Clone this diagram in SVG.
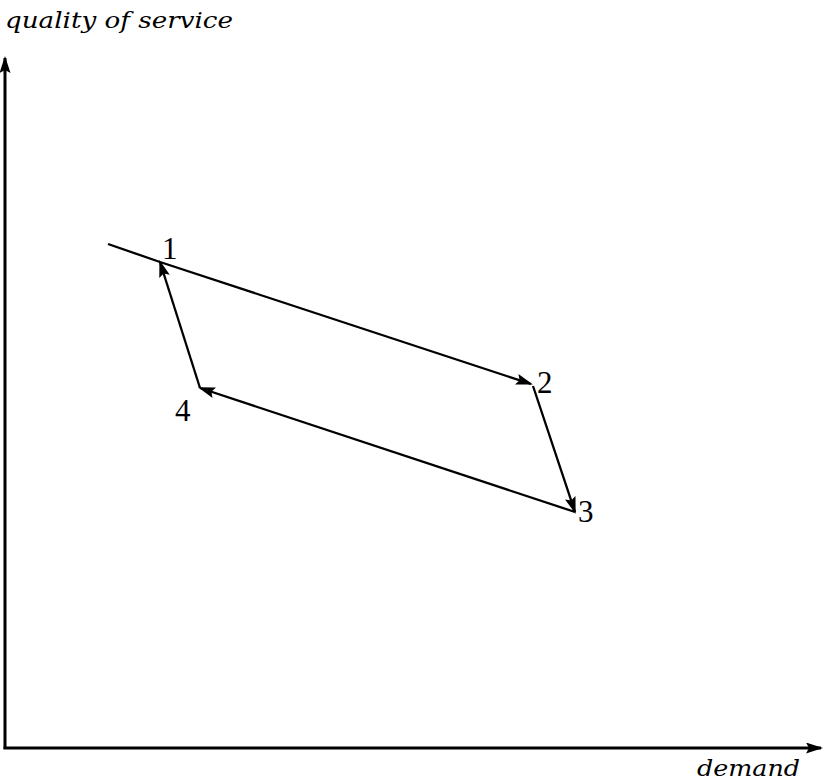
<svg xmlns="http://www.w3.org/2000/svg" width="827" height="783" viewBox="0 0 827 783">
<defs>
<marker id="ahs" markerWidth="17" markerHeight="11" refX="15" refY="5.5" orient="auto" markerUnits="userSpaceOnUse"><path d="M0,0 L17,5.5 L0,11 L3,5.5 Z" fill="#000"/></marker>
<style>
.ax{stroke:#000;stroke-width:3;fill:none}
.ln{stroke:#000;stroke-width:2.3;fill:none}
.lbl{font-family:"Liberation Serif",serif;font-size:31px;fill:#000}
.axl{font-family:"DejaVu Serif","Liberation Serif",serif;font-style:italic;font-size:23px;fill:#000}
</style>
</defs>
<g id="axes">
<line class="ax" x1="5" y1="749" x2="5" y2="58" marker-end="url(#ahs)"/>
<line class="ax" x1="3.5" y1="748" x2="821" y2="748" marker-end="url(#ahs)"/>
<text class="axl" x="5" y="28" textLength="228" lengthAdjust="spacingAndGlyphs">quality of service</text>
<text class="axl" x="697" y="776" textLength="103" lengthAdjust="spacingAndGlyphs">demand</text>
</g>
<g id="connectors">
<line class="ln" x1="108" y1="244" x2="160" y2="262"/>
<line class="ln" x1="160" y1="262" x2="531" y2="384" marker-end="url(#ahs)"/>
<line class="ln" x1="533" y1="386" x2="575" y2="512" marker-end="url(#ahs)"/>
<line class="ln" x1="575" y1="512" x2="200" y2="388" marker-end="url(#ahs)"/>
<line class="ln" x1="200" y1="388" x2="160" y2="262" marker-end="url(#ahs)"/>
</g>
<g id="n1"><text class="lbl" x="162" y="259">1</text></g>
<g id="n2"><text class="lbl" x="537" y="393">2</text></g>
<g id="n3"><text class="lbl" x="578" y="522">3</text></g>
<g id="n4"><text class="lbl" x="175" y="421">4</text></g>
</svg>
